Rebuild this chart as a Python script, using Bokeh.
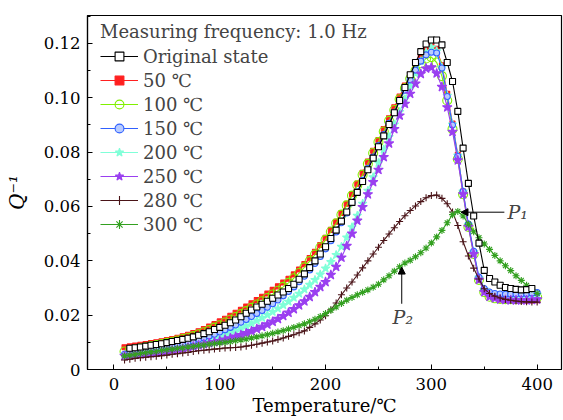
from bokeh.plotting import figure
from bokeh.models import (SingleIntervalTicker, CustomJSTickFormatter, Legend, LegendItem,
                          Label, Arrow, NormalHead, Range1d)
from bokeh.embed import file_html
from bokeh.resources import INLINE

# ---- data ----
temps = [10, 15, 20, 25, 30, 35, 40, 45, 50, 55,
         60, 65, 70, 75, 80, 85, 90, 95, 100, 105,
         110, 115, 120, 125, 130, 135, 140, 145, 150, 155,
         160, 165, 170, 175, 180, 185, 190, 195, 200, 205,
         210, 215, 220, 225, 230, 235, 240, 245, 250, 255,
         260, 265, 270, 275, 280, 285, 290, 295, 300, 305,
         310, 315, 320, 325, 330, 335, 340, 345, 350, 355,
         360, 365, 370, 375, 380, 385, 390, 395, 400]

temps_orig = temps[1:-1]
q_orig = [.0078, .0080, .0083, .0086, .0089, .0092, .0095, .0099, .0103,
          .0107, .0111, .0115, .0120, .0126, .0132, .0139, .0147, .0155, .0163,
          .0172, .0182, .0194, .0207, .0219, .0230, .0240, .0251, .0262, .0274,
          .0285, .0298, .0314, .0332, .0352, .0375, .0400, .0425, .0452, .0482,
          .0513, .0546, .0580, .0615, .0652, .0692, .0735, .0778, .0820, .0860,
          .0902, .0945, .0990, .1038, .1085, .1130, .1170, .1198, .1213, .1213,
          .1195, .1130, .1060, .0950, .0815, .0685, .0565, .0465, .0365, .0335,
          .0322, .0310, .0302, .0298, .0295, .0293, .0294, .0298]

q_50 = [.0082, .0085, .0088, .0091, .0094, .0097, .0100, .0104, .0108, .0112,
        .0117, .0122, .0128, .0134, .0141, .0149, .0158, .0167, .0177, .0187,
        .0198, .0209, .0220, .0232, .0244, .0256, .0268, .0280, .0293, .0306,
        .0320, .0334, .0350, .0368, .0388, .0410, .0433, .0458, .0485, .0514,
        .0544, .0576, .0610, .0646, .0684, .0724, .0765, .0805, .0845, .0885,
        .0925, .0965, .1005, .1045, .1085, .1120, .1155, .1180, .1190, .1180,
        .1120, .1015, .0905, .0790, .0655, .0530, .0430, .0335, .0290, .0272,
        .0263, .0258, .0255, .0254, .0253, .0253, .0253, .0254, .0255]

q_100 = [.0066, .0070, .0074, .0078, .0082, .0086, .0090, .0094, .0098, .0102,
         .0107, .0112, .0117, .0123, .0130, .0137, .0145, .0154, .0163, .0173,
         .0183, .0193, .0204, .0215, .0227, .0239, .0251, .0263, .0276, .0290,
         .0304, .0319, .0336, .0355, .0376, .0399, .0423, .0449, .0477, .0507,
         .0538, .0570, .0604, .0640, .0678, .0717, .0757, .0797, .0837, .0876,
         .0915, .0955, .0995, .1035, .1070, .1100, .1127, .1145, .1150, .1130,
         .1080, .0990, .0885, .0775, .0645, .0525, .0425, .0330, .0285, .0268,
         .0262, .0260, .0259, .0259, .0260, .0261, .0262, .0264, .0266]

q_150 = [.0056, .0059, .0062, .0065, .0068, .0071, .0075, .0078, .0082, .0086,
         .0090, .0094, .0099, .0104, .0110, .0116, .0123, .0130, .0138, .0146,
         .0155, .0164, .0174, .0184, .0195, .0206, .0217, .0229, .0242, .0256,
         .0271, .0287, .0304, .0323, .0343, .0366, .0390, .0416, .0444, .0474,
         .0506, .0540, .0576, .0614, .0654, .0696, .0740, .0782, .0824, .0865,
         .0906, .0947, .0988, .1028, .1066, .1102, .1135, .1158, .1168, .1165,
         .1110, .1005, .0900, .0785, .0655, .0535, .0435, .0340, .0298, .0285,
         .0280, .0278, .0277, .0277, .0277, .0278, .0279, .0281, .0283]

q_200 = [.0054, .0056, .0058, .0061, .0064, .0067, .0070, .0073, .0076, .0079,
         .0083, .0087, .0091, .0095, .0100, .0105, .0110, .0116, .0122, .0129,
         .0136, .0144, .0152, .0161, .0170, .0180, .0190, .0201, .0212, .0224,
         .0237, .0250, .0264, .0279, .0295, .0312, .0330, .0350, .0372, .0396,
         .0422, .0452, .0486, .0524, .0566, .0610, .0658, .0708, .0760, .0810,
         .0856, .0902, .0948, .0995, .1043, .1090, .1135, .1168, .1186, .1172,
         .1112, .1008, .0902, .0788, .0655, .0533, .0433, .0338, .0295, .0280,
         .0274, .0271, .0270, .0270, .0270, .0271, .0272, .0274, .0276]

q_250 = [.0050, .0052, .0054, .0056, .0058, .0060, .0062, .0065, .0068, .0071,
         .0074, .0077, .0081, .0085, .0089, .0093, .0097, .0101, .0105, .0110,
         .0115, .0121, .0127, .0134, .0141, .0149, .0157, .0166, .0176, .0186,
         .0197, .0209, .0222, .0236, .0251, .0267, .0285, .0304, .0322, .0348,
         .0378, .0412, .0455, .0500, .0548, .0598, .0645, .0690, .0735, .0782,
         .0832, .0885, .0935, .0978, .1015, .1052, .1088, .1108, .1112, .1090,
         .1040, .0965, .0875, .0770, .0645, .0525, .0425, .0330, .0285, .0268,
         .0262, .0258, .0256, .0255, .0255, .0255, .0255, .0256, .0258]

q_280 = [.0035, .0038, .0041, .0043, .0045, .0047, .0049, .0051, .0053, .0056,
         .0058, .0061, .0063, .0066, .0069, .0071, .0073, .0075, .0077, .0079,
         .0080, .0081, .0083, .0086, .0089, .0093, .0097, .0101, .0105, .0110,
         .0116, .0122, .0128, .0135, .0142, .0155, .0168, .0182, .0198, .0220,
         .0245, .0275, .0300, .0322, .0348, .0374, .0400, .0425, .0450, .0475,
         .0499, .0522, .0545, .0566, .0585, .0602, .0618, .0632, .0640, .0642,
         .0630, .0610, .0580, .0530, .0470, .0418, .0373, .0333, .0297, .0280,
         .0270, .0263, .0258, .0255, .0252, .0250, .0249, .0248, .0248]

q_300 = [.0050, .0053, .0056, .0059, .0062, .0065, .0067, .0070, .0073, .0075,
         .0078, .0080, .0083, .0085, .0088, .0090, .0093, .0095, .0098, .0100,
         .0103, .0106, .0109, .0112, .0116, .0120, .0124, .0128, .0133, .0138,
         .0143, .0149, .0155, .0161, .0168, .0176, .0185, .0195, .0206, .0218,
         .0230, .0243, .0255, .0265, .0275, .0284, .0293, .0303, .0314, .0330,
         .0345, .0362, .0378, .0392, .0402, .0415, .0430, .0447, .0466, .0488,
         .0512, .0540, .0570, .0582, .0565, .0535, .0507, .0485, .0462, .0442,
         .0420, .0400, .0382, .0364, .0345, .0328, .0310, .0295, .0280]

labels = ["Original state", "50 \u2103", "100 \u2103", "150 \u2103",
          "200 \u2103", "250 \u2103", "280 \u2103", "300 \u2103"]
legend_title = "Measuring frequency: 1.0 Hz"

FONT = "DejaVu Serif"

p = figure(width=563, height=420, output_backend="svg", toolbar_location=None,
           x_range=Range1d(-25, 423), y_range=Range1d(0, 0.1303),
           min_border_left=87, min_border_right=2, min_border_top=15, min_border_bottom=51)
p.xgrid.visible = False
p.ygrid.visible = False
p.outline_line_color = "black"
p.outline_line_width = 1.2
p.background_fill_color = "white"
p.border_fill_color = "white"

series = [
    ("50", temps, q_50, "#ff2020", "square", 5, "#ff2020", 1.0),
    ("100", temps, q_100, "#80f000", "circle", 9, "#80f000", 0.0),
    ("200", temps, q_200, "#80ffd8", "star", 9, "#80ffd8", 1.0),
    ("150", temps, q_150, "#3060ff", "circle", 6, "#b8ccff", 1.0),
    ("250", temps, q_250, "#9a3ff0", "star", 10, "#9a3ff0", 1.0),
    ("280", temps, q_280, "#4a1418", "cross", 7, "#4a1418", 1.0),
    ("300", temps, q_300, "#33a020", "asterisk", 7, "#33a020", 1.0),
    ("orig", temps_orig, q_orig, "black", "square", 6, "white", 1.0),
]

rend = {}
for key, xs, ys, col, mk, sz, fc, fa in series:
    lr = p.line(xs, ys, line_color=col, line_width=1.1)
    sr = p.scatter(xs, ys, marker=mk, size=sz, line_color=col, line_width=1.1,
                   fill_color=fc, fill_alpha=fa)
    rend[key] = [lr, sr]

order = ["orig", "50", "100", "150", "200", "250", "280", "300"]
items = [LegendItem(label=lab, renderers=rend[k]) for k, lab in zip(order, labels)]
legend = Legend(items=items, location=(13, 134), title=legend_title)
legend.title_text_font = FONT
legend.title_text_font_size = "18px"
legend.title_text_font_style = "normal"
legend.title_standoff = 3
legend.label_text_font = FONT
legend.label_text_font_size = "18px"
legend.border_line_color = None
legend.background_fill_alpha = 0
legend.glyph_width = 38
legend.glyph_height = 22
legend.label_height = 22
legend.spacing = 2
legend.padding = 8
legend.margin = 0
legend.label_standoff = 5
p.add_layout(legend, "center")

# axes
p.xaxis.ticker = SingleIntervalTicker(interval=100, num_minor_ticks=2)
p.yaxis.ticker = SingleIntervalTicker(interval=0.02, num_minor_ticks=2)
p.yaxis.formatter = CustomJSTickFormatter(code="return tick == 0 ? '0' : tick.toFixed(2);")
for ax in (p.xaxis[0], p.yaxis[0]):
    ax.major_tick_in = 5
    ax.major_tick_out = 0
    ax.minor_tick_in = 3
    ax.minor_tick_out = 0
    ax.axis_line_color = "black"
    ax.axis_line_width = 1.2
    ax.major_tick_line_color = "black"
    ax.minor_tick_line_color = "black"
    ax.major_label_text_font = FONT
    ax.major_label_text_font_size = "16.5px"
    ax.major_label_text_color = "black"
    ax.axis_label_text_font = FONT
    ax.axis_label_text_font_size = "18px"
    ax.axis_label_text_color = "black"

p.xaxis.axis_label = "Temperature/\u2103"
p.xaxis.axis_label_text_font_style = "normal"
p.xaxis.major_label_standoff = 8
p.xaxis.axis_label_standoff = 2
p.yaxis.axis_label = "Q\u207b\u00b9"
p.yaxis.axis_label_text_font_style = "italic"
p.yaxis.axis_label_text_font_size = "20px"
p.yaxis.major_label_standoff = 7
p.yaxis.axis_label_standoff = 12

# annotations
p.add_layout(Arrow(end=NormalHead(size=7, fill_color="black", line_color="black"),
                   x_start=369, y_start=0.0579, x_end=328, y_end=0.0579,
                   line_color="black", line_width=1))
p.add_layout(Arrow(end=NormalHead(size=7, fill_color="black", line_color="black"),
                   x_start=272, y_start=0.0242, x_end=272, y_end=0.0377,
                   line_color="black", line_width=1))
p.add_layout(Label(x=372, y=0.0579, text="P\u2081", text_font=FONT, text_font_style="italic",
                   text_font_size="19px", text_baseline="middle", text_align="left"))
p.add_layout(Label(x=273, y=0.0195, text="P\u2082", text_font=FONT, text_font_style="italic",
                   text_font_size="19px", text_baseline="middle", text_align="center"))

open("out.html", "w").write(file_html(p, INLINE))
